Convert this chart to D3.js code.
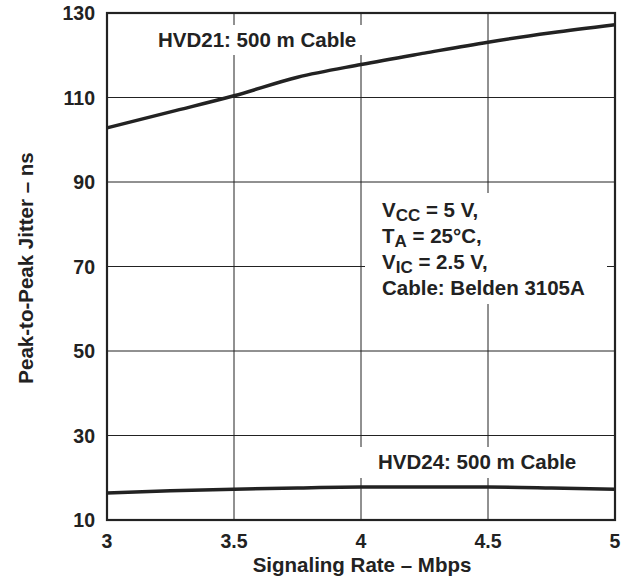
<!DOCTYPE html>
<html>
<head>
<meta charset="utf-8">
<script src="https://cdn.jsdelivr.net/npm/d3@7"></script>
<style>
  body { margin: 0; background: #fff; }
  text { font-family: "Liberation Sans", Arial, sans-serif; font-weight: bold; fill: #222; }
</style>
</head>
<body>
<svg width="634" height="587"></svg>
<script>
// datos
const rates = [3, 3.25, 3.5, 3.75, 4, 4.25, 4.5, 4.75, 5];
const hvd21 = [102.8, 106.6, 110.4, 114.8, 117.8, 120.5, 123.1, 125.3, 127.2];
const hvd24 = [16.4, 16.9, 17.3, 17.6, 17.8, 17.8, 17.8, 17.6, 17.3];
const xTicks = [3, 3.5, 4, 4.5, 5];
const yTicks = [10, 30, 50, 70, 90, 110, 130];

const svg = d3.select("svg");
const pLeft = 107, pRight = 615, pTop = 13, pBottom = 520;

const x = d3.scaleLinear().domain([3, 5]).range([pLeft, pRight]);
const y = d3.scaleLinear().domain([10, 130]).range([pBottom, pTop]);

// rejilla
const grid = svg.append("g").attr("stroke", "#222").attr("stroke-width", 1);
grid.selectAll("line.v")
  .data(xTicks.slice(1, -1))
  .enter().append("line")
  .attr("x1", d => x(d)).attr("x2", d => x(d))
  .attr("y1", pTop).attr("y2", pBottom);
grid.selectAll("line.h")
  .data(yTicks.slice(1, -1))
  .enter().append("line")
  .attr("x1", pLeft).attr("x2", pRight)
  .attr("y1", d => y(d)).attr("y2", d => y(d));

// cajas blancas tras las etiquetas
const boxes = [
  [150, 25, 216, 30],
  [365, 193, 242, 111],
  [355, 447, 257, 31]
];
svg.selectAll("rect.box")
  .data(boxes)
  .enter().append("rect")
  .attr("x", d => d[0]).attr("y", d => d[1])
  .attr("width", d => d[2]).attr("height", d => d[3])
  .attr("fill", "#fff");

// borde
svg.append("rect")
  .attr("x", pLeft).attr("y", pTop)
  .attr("width", pRight - pLeft).attr("height", pBottom - pTop)
  .attr("fill", "none").attr("stroke", "#222").attr("stroke-width", 2.2);

// curvas
const line = d3.line()
  .x((d, i) => x(rates[i]))
  .y(d => y(d))
  .curve(d3.curveMonotoneX);

[hvd21, hvd24].forEach(s => {
  svg.append("path")
    .datum(s)
    .attr("d", line)
    .attr("fill", "none")
    .attr("stroke", "#222")
    .attr("stroke-width", 3.5);
});

// etiquetas de ejes
svg.selectAll("text.xt")
  .data(xTicks)
  .enter().append("text")
  .attr("x", d => x(d)).attr("y", 548)
  .attr("text-anchor", "middle")
  .attr("font-size", 19.5)
  .text(d => d);

svg.selectAll("text.yt")
  .data(yTicks)
  .enter().append("text")
  .attr("x", 95).attr("y", d => y(d) + 7)
  .attr("text-anchor", "end")
  .attr("font-size", 19.5)
  .text(d => d);

svg.append("text")
  .attr("x", 362).attr("y", 572)
  .attr("text-anchor", "middle")
  .attr("font-size", 20.5)
  .text("Signaling Rate – Mbps");

svg.append("text")
  .attr("transform", "translate(33,268) rotate(-90)")
  .attr("text-anchor", "middle")
  .attr("font-size", 20.5)
  .text("Peak-to-Peak Jitter – ns");

// anotaciones
svg.append("text")
  .attr("x", 158).attr("y", 47)
  .attr("font-size", 20.5)
  .text("HVD21: 500 m Cable");

svg.append("text")
  .attr("x", 378).attr("y", 469)
  .attr("font-size", 20.5)
  .text("HVD24: 500 m Cable");

const cond = [
  ["V", "CC", " = 5 V,"],
  ["T", "A", " = 25°C,"],
  ["V", "IC", " = 2.5 V,"],
  ["Cable: Belden 3105A", "", ""]
];
cond.forEach((c, i) => {
  const t = svg.append("text")
    .attr("x", 382).attr("y", 217 + i * 26)
    .attr("font-size", 20.5);
  t.append("tspan").text(c[0]);
  if (c[1]) {
    t.append("tspan").attr("dy", 4).attr("font-size", 17).text(c[1]);
    t.append("tspan").attr("dy", -4).text(c[2]);
  }
});
</script>
</body>
</html>
